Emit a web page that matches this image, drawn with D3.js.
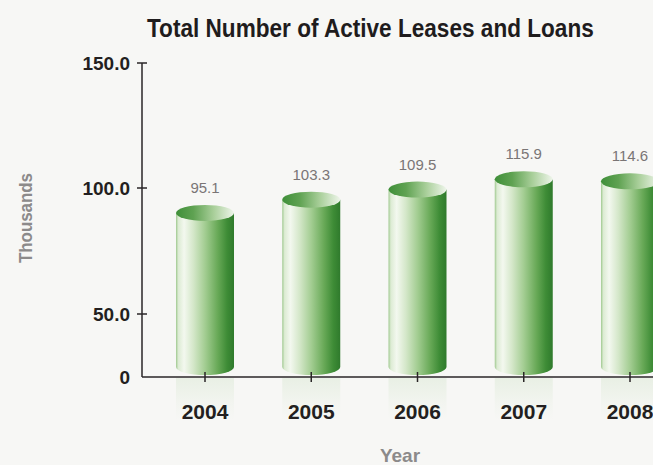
<!DOCTYPE html>
<html>
<head>
<meta charset="utf-8">
<script src="https://cdn.jsdelivr.net/npm/d3@7"></script>
<style>
  html, body { margin: 0; padding: 0; background: #f7f7f5; overflow: hidden; }
  svg { display: block; }
</style>
</head>
<body>
<script>
// Active leases and loans, in thousands
const years = ["2004", "2005", "2006", "2007", "2008"];
const activeLeasesLoans = [95.1, 103.3, 109.5, 115.9, 114.6];
const yTickValues = [0, 50, 100, 150];
const yTickLabels = ["0", "50.0", "100.0", "150.0"];

const W = 653, H = 465;
const svg = d3.select("body").append("svg").attr("width", W).attr("height", H);

svg.append("rect").attr("width", W).attr("height", H).attr("fill", "#f7f7f5");

const defs = svg.append("defs");

// Cylinder body: light sheen on the left, deep green on the right
const bodyGrad = defs.append("linearGradient").attr("id", "cylBody")
  .attr("x1", "0%").attr("x2", "100%").attr("y1", "0%").attr("y2", "0%");
[[0, "#9fc98f"], [4, "#dcebd3"], [14, "#f3f8ef"], [30, "#d4e7c9"], [50, "#a3cd92"],
 [72, "#68a957"], [88, "#3e8c36"], [100, "#2f7a2c"]]
  .forEach(([o, c]) => bodyGrad.append("stop").attr("offset", o + "%").attr("stop-color", c));

// Cylinder cap: dark rim on the left, pale on the right
const capGrad = defs.append("linearGradient").attr("id", "cylTop")
  .attr("x1", "0%").attr("x2", "100%").attr("y1", "0%").attr("y2", "0%");
[[0, "#3f8f39"], [30, "#5fa252"], [65, "#a9cf9a"], [100, "#eef5ea"]]
  .forEach(([o, c]) => capGrad.append("stop").attr("offset", o + "%").attr("stop-color", c));

// Faint reflection under the baseline
const reflGrad = defs.append("linearGradient").attr("id", "refl")
  .attr("x1", "0%").attr("x2", "0%").attr("y1", "0%").attr("y2", "100%");
reflGrad.append("stop").attr("offset", "0%").attr("stop-color", "#9cc88c").attr("stop-opacity", 0.16);
reflGrad.append("stop").attr("offset", "60%").attr("stop-color", "#9cc88c").attr("stop-opacity", 0.05);
reflGrad.append("stop").attr("offset", "100%").attr("stop-color", "#9cc88c").attr("stop-opacity", 0);

// Axis scale (the printed axis compresses its lowest interval)
const y = d3.scaleLinear().domain(yTickValues).range([377, 314, 188, 63]);
// Cylinder height scale
const barBase = 367;
const h = d3.scaleLinear().domain([0, 150]).range([barBase, barBase - 243]);
const x = d3.scalePoint().domain(years).range([205, 630]);

const barW = 58, rx = barW / 2, ry = 8;

// Title, horizontally condensed to fit its span
const title = svg.append("text")
  .attr("font-family", "Liberation Sans, Arial, sans-serif")
  .attr("font-weight", "bold").attr("font-size", 26).attr("fill", "#1f1c1d")
  .text("Total Number of Active Leases and Loans");
const titleLen = title.node().getComputedTextLength();
title.attr("transform", `translate(147,37) scale(${447 / titleLen},1)`);

// Reflections
svg.append("g").selectAll("rect").data(years).join("rect")
  .attr("x", d => x(d) - rx).attr("y", 378)
  .attr("width", barW).attr("height", 42)
  .attr("fill", "url(#refl)");

// Cylinders
const bars = svg.append("g").selectAll("g").data(years.map((yr, i) => ({ yr, v: activeLeasesLoans[i] })))
  .join("g");

bars.append("path")
  .attr("fill", "url(#cylBody)")
  .attr("d", d => {
    const cx = x(d.yr), t = h(d.v);
    return `M${cx - rx},${t} L${cx - rx},${barBase} A${rx},${ry} 0 0 0 ${cx + rx},${barBase} L${cx + rx},${t} Z`;
  });

bars.append("ellipse")
  .attr("cx", d => x(d.yr)).attr("cy", d => h(d.v))
  .attr("rx", rx).attr("ry", ry)
  .attr("fill", "url(#cylTop)");

bars.append("text")
  .attr("x", d => x(d.yr)).attr("y", d => h(d.v) - ry - 12)
  .attr("text-anchor", "middle")
  .attr("font-family", "Liberation Sans, Arial, sans-serif")
  .attr("font-size", 15).attr("fill", "#7a7575")
  .text(d => d.v.toFixed(1));

// Y axis
const yAxis = svg.append("g");
yAxis.append("line").attr("x1", 142).attr("x2", 142).attr("y1", y(150)).attr("y2", y(0))
  .attr("stroke", "#2a2627").attr("stroke-width", 1.5);
yAxis.selectAll(".tk").data(yTickValues.slice(1)).join("line")
  .attr("x1", 137).attr("x2", 147).attr("y1", d => y(d)).attr("y2", d => y(d))
  .attr("stroke", "#2a2627").attr("stroke-width", 1.5);
yAxis.selectAll("text").data(yTickValues).join("text")
  .attr("x", 130).attr("y", d => y(d)).attr("dy", "0.36em")
  .attr("text-anchor", "end")
  .attr("font-family", "Liberation Sans, Arial, sans-serif")
  .attr("font-weight", "bold").attr("font-size", 19).attr("fill", "#231f20")
  .text((d, i) => yTickLabels[i]);

// X axis
const xAxis = svg.append("g");
xAxis.append("line").attr("x1", 142).attr("x2", W).attr("y1", y(0)).attr("y2", y(0))
  .attr("stroke", "#2a2627").attr("stroke-width", 1.5);
xAxis.selectAll(".tk").data(years).join("line")
  .attr("x1", d => x(d)).attr("x2", d => x(d)).attr("y1", 372).attr("y2", 382)
  .attr("stroke", "#2a2627").attr("stroke-width", 1.5);
xAxis.selectAll("text").data(years).join("text")
  .attr("x", d => x(d)).attr("y", 419)
  .attr("text-anchor", "middle")
  .attr("font-family", "Liberation Sans, Arial, sans-serif")
  .attr("font-weight", "bold").attr("font-size", 21).attr("fill", "#231f20")
  .text(d => d);

// Axis titles
svg.append("text")
  .attr("transform", "translate(32,218) rotate(-90)")
  .attr("text-anchor", "middle")
  .attr("textLength", 90).attr("lengthAdjust", "spacingAndGlyphs")
  .attr("font-family", "Liberation Sans, Arial, sans-serif")
  .attr("font-weight", "bold").attr("font-size", 19).attr("fill", "#8c8a8a")
  .text("Thousands");

svg.append("text")
  .attr("x", 400).attr("y", 462)
  .attr("text-anchor", "middle")
  .attr("font-family", "Liberation Sans, Arial, sans-serif")
  .attr("font-weight", "bold").attr("font-size", 19).attr("fill", "#8c8a8a")
  .text("Year");
</script>
</body>
</html>
